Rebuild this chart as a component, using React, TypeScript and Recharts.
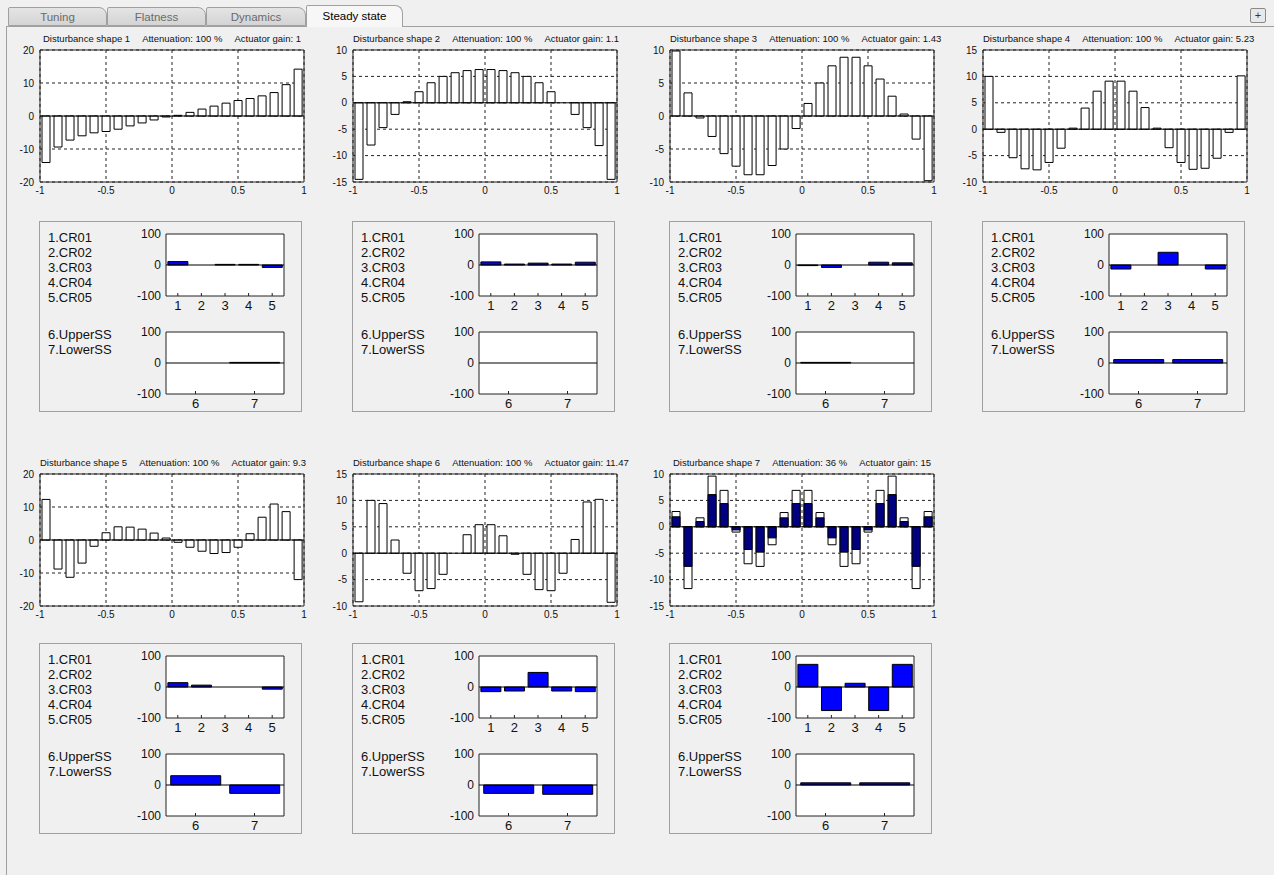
import { BarChart, Bar, XAxis, YAxis, CartesianGrid, ReferenceLine, ReferenceArea } from 'recharts';

// actuator positions along the mirror (x axis of the disturbance plots)
const POSITIONS = [
    -0.955, -0.864, -0.773, -0.682, -0.591, -0.5, -0.409, -0.318, -0.227, -0.136, -0.045,
    0.045, 0.136, 0.227, 0.318, 0.409, 0.5, 0.591, 0.682, 0.773, 0.864, 0.955,
];

const SHAPE_1 = [-14.1, -9.4, -7.3, -6.0, -5.1, -4.7, -4.0, -3.0, -2.1, -1.2, -0.3, 0.2, 1.1, 2.1, 3.0, 3.9, 4.7, 5.3, 6.1, 7.1, 9.5, 14.2];
const SHAPE_2 = [-14.5, -8.0, -4.7, -2.2, 0.2, 2.1, 3.8, 5.0, 5.7, 6.1, 6.3, 6.3, 6.1, 5.7, 5.0, 3.8, 2.1, 0, -2.2, -4.7, -8.1, -14.5];
const SHAPE_3 = [9.85, 3.5, -0.3, -3.1, -5.7, -7.6, -8.9, -8.9, -7.5, -5.0, -1.9, 1.9, 5.0, 7.6, 8.9, 8.9, 7.6, 5.6, 3.0, 0.3, -3.5, -9.8];
const SHAPE_4 = [10.0, -0.6, -5.4, -7.5, -7.7, -6.3, -3.6, 0.2, 4.0, 7.2, 9.1, 9.1, 7.2, 4.1, 0.2, -3.5, -6.3, -7.6, -7.4, -5.5, -0.6, 10.1];
const SHAPE_5 = [12.3, -8.8, -11.3, -7.0, -1.9, 2.2, 4.0, 3.9, 3.3, 2.1, 0.6, -0.7, -2.2, -3.4, -4.1, -3.8, -2.2, 1.9, 6.9, 10.9, 8.6, -12.0];
const SHAPE_6 = [-9.2, 10.0, 9.4, 2.5, -3.8, -7.1, -6.7, -4.0, 0, 3.5, 5.4, 5.4, 3.3, -0.2, -4.0, -6.9, -7.1, -3.8, 2.6, 9.7, 10.2, -9.3];
const SHAPE_7 = [2.9, -11.7, 1.7, 9.6, 6.9, -1.0, -7.0, -7.5, -3.4, 2.7, 6.9, 6.9, 2.7, -3.4, -7.5, -7.0, -1.0, 6.9, 9.6, 1.7, -11.7, 2.9];
const SHAPE_7_RESIDUAL = [1.9, -7.5, 1.0, 6.1, 4.4, -0.6, -4.3, -4.8, -2.1, 1.7, 4.4, 4.4, 1.7, -2.1, -4.8, -4.3, -0.6, 4.4, 6.1, 1.0, -7.5, 1.9];

const SHAPES = [SHAPE_1, SHAPE_2, SHAPE_3, SHAPE_4, SHAPE_5, SHAPE_6, SHAPE_7];
const ATTENUATIONS = ['100', '100', '100', '100', '100', '100', '36'];
const GAINS = ['1', '1.1', '1.43', '5.23', '9.3', '11.47', '15'];

const X_TICKS = [-1, -0.5, 0, 0.5, 1];
const Y_TICKS = [
    [-20, -10, 0, 10, 20],
    [-15, -10, -5, 0, 5, 10],
    [-10, -5, 0, 5, 10],
    [-10, -5, 0, 5, 10, 15],
    [-20, -10, 0, 10, 20],
    [-10, -5, 0, 5, 10, 15],
    [-15, -10, -5, 0, 5, 10],
];

const CR_LABELS = ['1.CR01', '2.CR02', '3.CR03', '4.CR04', '5.CR05'];
const SS_LABELS = ['6.UpperSS', '7.LowerSS'];
const CR_CATEGORIES = ['1', '2', '3', '4', '5'];
const SS_CATEGORIES = ['6', '7'];
const MINI_TICKS = [-100, 0, 100];

// actuator commands in % for each disturbance shape
const CR_VALUES = [
    [11, 0, 2, 2, -8],
    [10, 3, 6, 3, 9],
    [-2, -8, 0, 9, 7],
    [-13, 0, 41, 0, -13],
    [14, 6, 0, 0, -7],
    [-15, -13, 47, -13, -15],
    [73, -76, 12, -76, 73],
];
const SS_VALUES = [
    [0, 2],
    [0, 0],
    [2, 0],
    [11, 11],
    [30, -27],
    [-27, -30],
    [7, 7],
];

const TABS = ['Tuning', 'Flatness', 'Dynamics', 'Steady state'];

const FONT = '"Liberation Sans", Arial, sans-serif';
const PLOT_W = 264;
const PLOT_H = 132;
const COL_LEFTS = [40, 353, 670, 983];
const ROW_TOPS = [50, 474];
const PANEL_TOPS = [221, 643];

function ShapeChart({ index, left, top }: { index: number; left: number; top: number }) {
    const values = SHAPES[index];
    const ticks = Y_TICKS[index];
    const hasResidual = index === 6;
    const data = POSITIONS.map((x, i) => ({
        x,
        value: values[i],
        residual: hasResidual ? SHAPE_7_RESIDUAL[i] : null,
    }));
    const yMin = ticks[0];
    const yMax = ticks[ticks.length - 1];

    return (
        <>
            <div
                style={{
                    position: 'absolute', left, top: top - 17, width: PLOT_W, textAlign: 'center',
                    fontSize: 9.5, lineHeight: '12px', whiteSpace: 'nowrap', color: '#111',
                }}
            >
                Disturbance shape {index + 1}
                <span style={{ marginLeft: 12 }}>Attenuation: {ATTENUATIONS[index]} %</span>
                <span style={{ marginLeft: 12 }}>Actuator gain: {GAINS[index]}</span>
            </div>
            <div style={{ position: 'absolute', left: left - 40, top: top - 8 }}>
                <BarChart
                    width={40 + PLOT_W + 8}
                    height={8 + PLOT_H + 20}
                    data={data}
                    margin={{ top: 8, right: 8, bottom: 0, left: 0 }}
                    barSize={8}
                >
                    <CartesianGrid fill="#fff" stroke="#222" strokeDasharray="3 3" />
                    <XAxis
                        dataKey="x"
                        type="number"
                        domain={[-1, 1]}
                        ticks={X_TICKS}
                        interval={0}
                        tickLine={false}
                        tickSize={0}
                        tickMargin={5}
                        axisLine={false}
                        height={20}
                        tick={{ fontSize: 10, fill: '#111' }}
                    />
                    {hasResidual && <XAxis xAxisId="res" dataKey="x" type="number" domain={[-1, 1]} hide />}
                    <YAxis
                        type="number"
                        domain={[yMin, yMax]}
                        ticks={ticks}
                        interval={0}
                        width={40}
                        tickLine={false}
                        tickSize={0}
                        tickMargin={6}
                        axisLine={false}
                        tick={{ fontSize: 10, fill: '#111' }}
                    />
                    <Bar dataKey="value" fill="#fff" stroke="#000" strokeWidth={1} isAnimationActive={false} />
                    {hasResidual && (
                        <Bar dataKey="residual" xAxisId="res" fill="#000080" stroke="#000" strokeWidth={1} isAnimationActive={false} />
                    )}
                    <ReferenceLine y={0} stroke="#000" />
                    <ReferenceArea y1={yMin} y2={yMax} fill="none" stroke="#222" fillOpacity={0} />
                </BarChart>
            </div>
        </>
    );
}

function MiniChart({ categories, values, left, top }: { categories: string[]; values: number[]; left: number; top: number }) {
    const data = categories.map((name, i) => ({ name, value: values[i] }));
    return (
        <div style={{ position: 'absolute', left: left - 36, top: top - 8 }}>
            <BarChart
                width={36 + 118 + 8}
                height={8 + 62 + 22}
                data={data}
                margin={{ top: 8, right: 8, bottom: 0, left: 0 }}
                barCategoryGap="8%"
            >
                <CartesianGrid fill="#fff" horizontal={false} vertical={false} />
                <XAxis
                    dataKey="name"
                    tickSize={-3}
                    tickMargin={8}
                    axisLine={false}
                    tickLine={{ stroke: '#222' }}
                    height={22}
                    interval={0}
                    tick={{ fontSize: 13, fill: '#111' }}
                />
                <XAxis
                    xAxisId="top"
                    orientation="top"
                    dataKey="name"
                    tickSize={-3}
                    axisLine={false}
                    tickLine={{ stroke: '#222' }}
                    tickFormatter={() => ''}
                    height={0}
                    interval={0}
                />
                <YAxis
                    domain={[-100, 100]}
                    ticks={MINI_TICKS}
                    interval={0}
                    width={36}
                    tickLine={false}
                    tickSize={0}
                    tickMargin={5}
                    axisLine={false}
                    tick={{ fontSize: 12, fill: '#111' }}
                />
                <Bar dataKey="value" fill="#0000ff" stroke="#000" strokeWidth={1} isAnimationActive={false} />
                <ReferenceLine y={0} stroke="#000" />
                <ReferenceArea y1={-100} y2={100} fill="none" stroke="#222" fillOpacity={0} />
            </BarChart>
        </div>
    );
}

function Panel({ index, left, top }: { index: number; left: number; top: number }) {
    return (
        <div
            style={{
                position: 'absolute', left, top, width: 263, height: 191,
                border: '1px solid #a0a0a0', boxSizing: 'border-box',
            }}
        >
            <div style={{ position: 'absolute', left: 8, top: 8, fontSize: 13, lineHeight: '15px', color: '#111' }}>
                {CR_LABELS.map((l) => <div key={l}>{l}</div>)}
            </div>
            <div style={{ position: 'absolute', left: 8, top: 105, fontSize: 13, lineHeight: '15px', color: '#111' }}>
                {SS_LABELS.map((l) => <div key={l}>{l}</div>)}
            </div>
            <MiniChart categories={CR_CATEGORIES} values={CR_VALUES[index]} left={126} top={12} />
            <MiniChart categories={SS_CATEGORIES} values={SS_VALUES[index]} left={126} top={110} />
        </div>
    );
}

export default function App() {
    const tabLefts = [8, 107, 206, 306];
    const tabWidths = [99, 99, 100, 97];
    return (
        <div
            style={{
                position: 'absolute', left: 0, top: 0, width: 1274, height: 875, overflow: 'hidden',
                background: '#f0f0f0', fontFamily: FONT,
            }}
        >
            {/* tab strip */}
            <div
                style={{
                    position: 'absolute', left: 6, top: 26, width: 1268, height: 849,
                    borderTop: '1px solid #a0a0a0', borderLeft: '1px solid #a0a0a0',
                }}
            />
            {TABS.map((t, i) => {
                const active = i === 3;
                return (
                    <div
                        key={t}
                        style={{
                            position: 'absolute', left: tabLefts[i], top: active ? 5 : 7,
                            width: tabWidths[i], height: active ? 22 : 19, boxSizing: 'border-box',
                            border: '1px solid #a0a0a0', borderBottom: active ? 'none' : '1px solid #a0a0a0',
                            borderTopRightRadius: 8, borderTopLeftRadius: 2,
                            background: active ? '#f7f7f7' : 'linear-gradient(#e4e4e4, #d4d4d4)',
                            color: active ? '#000' : '#6a6a6a', fontSize: 11.5,
                            textAlign: 'center', lineHeight: active ? '21px' : '18px',
                        }}
                    >
                        {t}
                    </div>
                );
            })}
            <div
                style={{
                    position: 'absolute', left: 1250, top: 8, width: 16, height: 15, boxSizing: 'border-box',
                    border: '1px solid #8a8a8a', borderRadius: 2, background: '#e8e8e8',
                    fontSize: 11, lineHeight: '12px', textAlign: 'center', color: '#333',
                }}
            >
                +
            </div>

            {SHAPES.map((_, i) => {
                const row = i < 4 ? 0 : 1;
                const col = i < 4 ? i : i - 4;
                return <ShapeChart key={`s${i}`} index={i} left={COL_LEFTS[col]} top={ROW_TOPS[row]} />;
            })}
            {SHAPES.map((_, i) => {
                const row = i < 4 ? 0 : 1;
                const col = i < 4 ? i : i - 4;
                return <Panel key={`p${i}`} index={i} left={COL_LEFTS[col] - 1} top={PANEL_TOPS[row]} />;
            })}
        </div>
    );
}
